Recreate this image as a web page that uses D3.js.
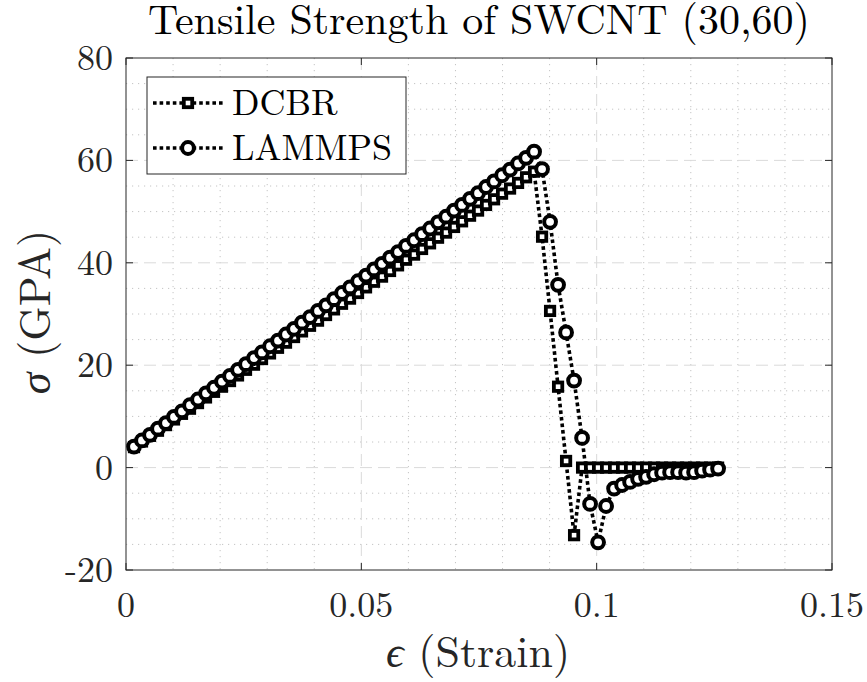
<!DOCTYPE html>
<html><head><meta charset="utf-8">
<script src="https://cdn.jsdelivr.net/npm/d3@7"></script>
<style>body{margin:0;background:#fff}svg{display:block}</style>
</head><body>
<svg id="chart" width="867" height="682"></svg>
<script>
const strain = [0.0017,0.0034,0.0051,0.0068,0.0085,0.0102,0.0119,0.0136,0.0153,0.0170,
0.0187,0.0204,0.0221,0.0238,0.0255,0.0272,0.0289,0.0306,0.0323,0.0340,
0.0357,0.0374,0.0391,0.0408,0.0425,0.0442,0.0459,0.0476,0.0493,0.0510,
0.0527,0.0544,0.0561,0.0578,0.0595,0.0612,0.0629,0.0646,0.0663,0.0680,
0.0697,0.0714,0.0731,0.0748,0.0765,0.0782,0.0799,0.0816,0.0833,0.0850,
0.0867,0.0884,0.0901,0.0918,0.0935,0.0952,0.0969,0.0986,0.1003,0.1020,
0.1037,0.1054,0.1071,0.1088,0.1105,0.1122,0.1139,0.1156,0.1173,0.1190,
0.1207,0.1224,0.1241,0.1258];
const dcbr = [4.0,5.1,6.2,7.2,8.3,9.4,10.5,11.5,12.6,13.7,
14.8,15.8,16.9,18.0,19.1,20.1,21.2,22.3,23.4,24.4,
25.5,26.6,27.7,28.7,29.8,30.9,32.0,33.0,34.1,35.2,
36.3,37.3,38.4,39.5,40.6,41.6,42.7,43.8,44.9,45.9,
47.0,48.1,49.2,50.2,51.3,52.4,53.5,54.5,55.6,56.7,
57.8,45.1,30.6,15.8,1.3,-13.2,0,0,0,0,
0,0,0,0,0,0,0,0,0,0,
0,0,0,0];
const lammps = [4.1,5.3,6.4,7.6,8.7,9.9,11.0,12.2,13.3,14.5,
15.6,16.8,17.9,19.1,20.2,21.4,22.5,23.7,24.8,26.0,
27.1,28.3,29.4,30.6,31.7,32.9,34.1,35.2,36.4,37.5,
38.7,39.8,41.0,42.1,43.3,44.4,45.6,46.7,47.9,49.0,
50.2,51.3,52.5,53.6,54.8,55.9,57.1,58.2,59.4,60.5,
61.7,58.3,48.0,35.7,26.4,17.0,5.8,-7.1,-14.6,-7.5,
-4.1,-3.4,-2.8,-2.2,-1.8,-1.3,-1.0,-0.9,-0.9,-1.0,
-0.9,-0.6,-0.4,-0.2];
const seriesNames = ["DCBR","LAMMPS"];
const xTicks = [0,0.05,0.1,0.15];
const xTickLabels = ["0","0.05","0.1","0.15"];
const yTicks = [-20,0,20,40,60,80];
const yTickLabels = ["-20","0","20","40","60","80"];
const xMinor = [0.01,0.02,0.03,0.04,0.06,0.07,0.08,0.09,0.11,0.12,0.13,0.14];
const yMinor = [-15,-10,-5,5,10,15,25,30,35,45,50,55,65,70,75];
const titleText = "Tensile Strength of SWCNT (30,60)";

const L=126,R=832,T=58,B=570;
const svg=d3.select("#chart");
const x=d3.scaleLinear().domain([0,0.15]).range([L,R]);
const y=d3.scaleLinear().domain([-20,80]).range([B,T]);
const font="'Latin Modern Roman','CMU Serif','Liberation Serif',serif";
const axCol="#262626";
function txt(sel,size){return sel.style("font-family",font).style("font-size",size+"px");}

// grids
const g=svg.append("g");
g.selectAll(".xm").data(xMinor).enter().append("line")
 .attr("x1",d=>x(d)).attr("x2",d=>x(d)).attr("y1",T).attr("y2",B)
 .attr("stroke","#c4c4c4").attr("stroke-width",1).attr("stroke-dasharray","1.2,4.8");
g.selectAll(".ym").data(yMinor).enter().append("line")
 .attr("y1",d=>y(d)).attr("y2",d=>y(d)).attr("x1",L).attr("x2",R)
 .attr("stroke","#c4c4c4").attr("stroke-width",1).attr("stroke-dasharray","1.2,4.8");
g.selectAll(".xM").data(xTicks.slice(1,-1)).enter().append("line")
 .attr("x1",d=>x(d)).attr("x2",d=>x(d)).attr("y1",T).attr("y2",B)
 .attr("stroke","#dadada").attr("stroke-width",1).attr("stroke-dasharray","12,6");
g.selectAll(".yM").data(yTicks.slice(1,-1)).enter().append("line")
 .attr("y1",d=>y(d)).attr("y2",d=>y(d)).attr("x1",L).attr("x2",R)
 .attr("stroke","#dadada").attr("stroke-width",1).attr("stroke-dasharray","12,6");

// data
const pts = (vals)=>strain.map((s,i)=>[s,vals[i]]);
const line=d3.line().x(d=>x(d[0])).y(d=>y(d[1]));
const dash="3.6,3";
const SQ=8.4, CR=5.9;
function marker(sel,type,cx,cy){
  if(type==="square"){
    sel.append("rect").attr("x",cx-SQ/2).attr("y",cy-SQ/2).attr("width",SQ).attr("height",SQ)
     .attr("fill","#fff").attr("stroke","#000").attr("stroke-width",3.8);
  } else {
    sel.append("circle").attr("cx",cx).attr("cy",cy).attr("r",CR)
     .attr("fill","#fff").attr("stroke","#000").attr("stroke-width",4);
  }
}
function drawSeries(vals,type){
  const data=pts(vals);
  svg.append("path").datum(data).attr("d",line).attr("fill","none")
   .attr("stroke","#000").attr("stroke-width",3.6).attr("stroke-dasharray",dash);
  const gg=svg.append("g");
  data.forEach(d=>marker(gg,type,x(d[0]),y(d[1])));
}
drawSeries(dcbr,"square");
drawSeries(lammps,"circle");

// axes box
svg.append("rect").attr("x",L).attr("y",T).attr("width",R-L).attr("height",B-T)
 .attr("fill","none").attr("stroke",axCol).attr("stroke-width",1);
const tl=7;
xTicks.forEach(t=>{
  svg.append("line").attr("x1",x(t)).attr("x2",x(t)).attr("y1",B).attr("y2",B-tl).attr("stroke",axCol);
  svg.append("line").attr("x1",x(t)).attr("x2",x(t)).attr("y1",T).attr("y2",T+tl).attr("stroke",axCol);
});
yTicks.forEach(t=>{
  svg.append("line").attr("y1",y(t)).attr("y2",y(t)).attr("x1",L).attr("x2",L+tl).attr("stroke",axCol);
  svg.append("line").attr("y1",y(t)).attr("y2",y(t)).attr("x1",R).attr("x2",R-tl).attr("stroke",axCol);
});
xTicks.forEach((t,i)=>{
  txt(svg.append("text"),36).attr("x",x(t)).attr("y",617).attr("text-anchor","middle")
   .attr("fill",axCol).text(xTickLabels[i]);
});
yTicks.forEach((t,i)=>{
  txt(svg.append("text"),36).attr("x",113).attr("y",y(t)+12).attr("text-anchor","end")
   .attr("fill",axCol).text(yTickLabels[i]);
});

// title
txt(svg.append("text"),42).attr("x",(L+R)/2).attr("y",34).attr("text-anchor","middle")
 .attr("fill","#000").text(titleText);

// x label
const xl=txt(svg.append("text"),44).attr("x",478).attr("y",667).attr("text-anchor","middle").attr("fill",axCol);
xl.append("tspan").style("font-style","italic").text("\u03F5");
xl.append("tspan").text(" (Strain)");
// y label
const yl=txt(svg.append("text"),44).attr("transform","translate(50,312) rotate(-90)").attr("text-anchor","middle").attr("fill",axCol);
yl.append("tspan").style("font-style","italic").text("\u03C3");
yl.append("tspan").text(" (GPA)");

// legend
const lg=svg.append("g");
lg.append("rect").attr("x",147).attr("y",77).attr("width",259).attr("height",97)
 .attr("fill","#fff").attr("stroke",axCol).attr("stroke-width",1);
const rows=[103,148];
seriesNames.forEach((n,i)=>{
  const ry=rows[i];
  lg.append("line").attr("x1",153).attr("x2",223).attr("y1",ry).attr("y2",ry)
   .attr("stroke","#000").attr("stroke-width",3.6).attr("stroke-dasharray",dash);
  marker(lg,i===0?"square":"circle",188,ry);
  txt(lg.append("text"),36).attr("x",232).attr("y",ry+12).attr("fill","#000").text(n);
});
</script>
</body></html>
